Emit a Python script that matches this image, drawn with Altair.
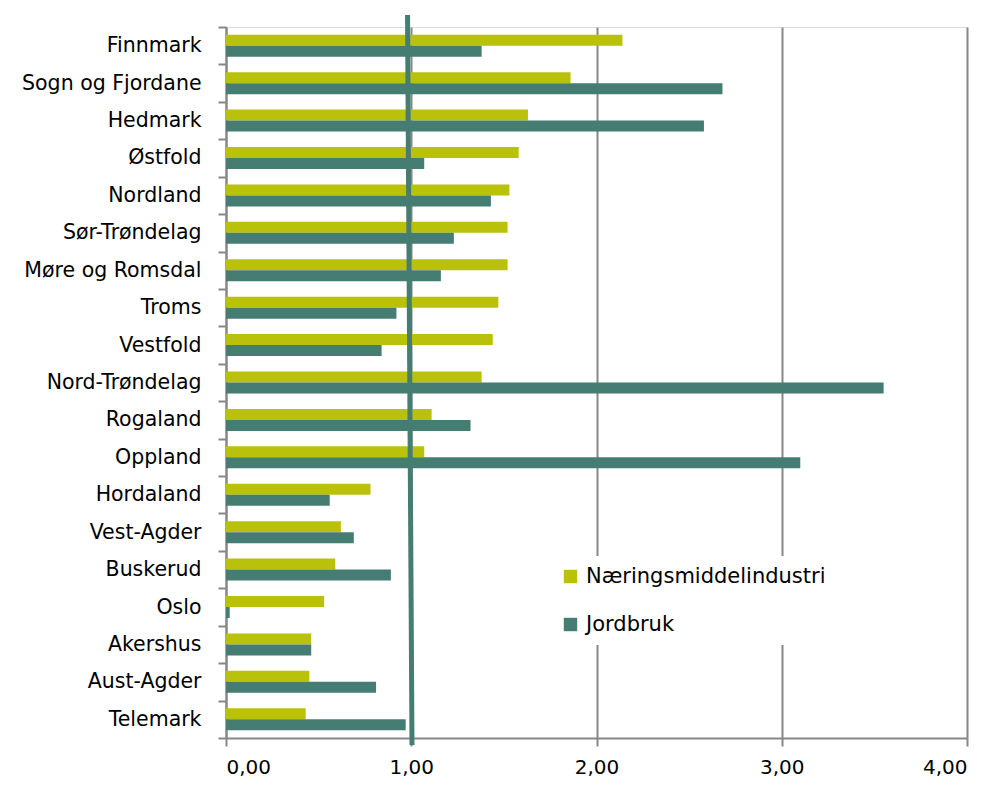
import altair as alt
import pandas as pd

categories = ["Finnmark", "Sogn og Fjordane", "Hedmark", "Østfold", "Nordland",
              "Sør-Trøndelag", "Møre og Romsdal", "Troms", "Vestfold", "Nord-Trøndelag",
              "Rogaland", "Oppland", "Hordaland", "Vest-Agder", "Buskerud", "Oslo",
              "Akershus", "Aust-Agder", "Telemark"]
naering = [2.14, 1.86, 1.63, 1.58, 1.53, 1.52, 1.52, 1.47, 1.44, 1.38,
           1.11, 1.07, 0.78, 0.62, 0.59, 0.53, 0.46, 0.45, 0.43]
jordbruk = [1.38, 2.68, 2.58, 1.07, 1.43, 1.23, 1.16, 0.92, 0.84, 3.55,
            1.32, 3.10, 0.56, 0.69, 0.89, 0.02, 0.46, 0.81, 0.97]
series = ["Næringsmiddelindustri", "Jordbruk"]
colors = ["#B9C10A", "#467D73"]
x_ticks = [0, 1, 2, 3, 4]
ref_line = {"top": 0.98, "bottom": 1.004}

rows = []
for c, a, b in zip(categories, naering, jordbruk):
    rows.append({"fylke": c, "serie": series[0], "verdi": a})
    rows.append({"fylke": c, "serie": series[1], "verdi": b})
df = pd.DataFrame(rows)
ref_df = pd.DataFrame([ref_line])

FONT = "DejaVu Sans"
W, H = 741, 711

bars = alt.Chart(df).mark_bar(size=11).encode(
    x=alt.X("verdi:Q", scale=alt.Scale(domain=[0, 4], nice=False),
            axis=alt.Axis(values=x_ticks, title=None, grid=True, gridColor="#878787",
                          gridWidth=2, domainColor="#878787", domainWidth=2,
                          tickColor="#878787", tickWidth=2, tickSize=8,
                          labelFont=FONT, labelFontSize=20, labelColor="#000000",
                          labelPadding=11,
                          labelExpr="replace(format(datum.value, '.2f'), '.', ',')")),
    y=alt.Y("fylke:N", sort=categories,
            scale=alt.Scale(paddingInner=0, paddingOuter=0),
            axis=alt.Axis(title=None, tickBand="extent", domainColor="#878787",
                          domainWidth=2, tickColor="#878787", tickWidth=2, tickSize=8,
                          labelFont=FONT, labelFontSize=20.5, labelColor="#000000",
                          labelPadding=17, labelLimit=300)),
    yOffset=alt.YOffset("serie:N", sort=series,
                        scale=alt.Scale(paddingInner=0, paddingOuter=0.7)),
    color=alt.Color("serie:N", sort=series,
                    scale=alt.Scale(domain=series, range=colors),
                    legend=alt.Legend(title=None, orient="none", legendX=324, legendY=529,
                                      fillColor="white", padding=10,
                                      symbolType="square", symbolSize=180,
                                      symbolStrokeWidth=0, symbolOpacity=1,
                                      labelFont=FONT, labelFontSize=21,
                                      labelColor="#000000", labelOffset=5,
                                      labelLimit=400, rowPadding=26)),
)

rule = alt.Chart(ref_df).mark_rule(color="#467D73", strokeWidth=5).encode(
    x=alt.X("top:Q"),
    x2=alt.X2("bottom:Q"),
    y=alt.value(-12),
    y2=alt.value(H + 7),
)

chart = alt.layer(bars, rule).properties(
    width=W, height=H,
    autosize=alt.AutoSizeParams(type="none"),
    padding={"left": 218, "top": 19, "right": 22, "bottom": 39},
).configure_view(stroke=None).configure(background="white")

chart.save("out.html", embed_options={"renderer": "svg", "actions": False})
